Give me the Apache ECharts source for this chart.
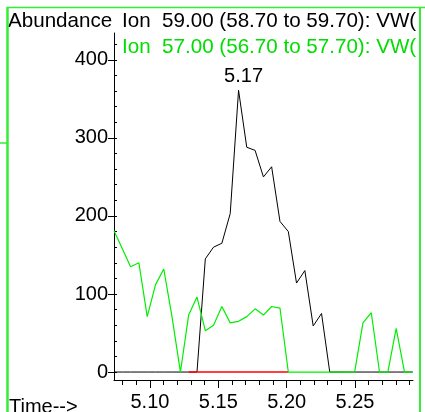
<!DOCTYPE html>
<html>
<head>
<meta charset="utf-8">
<script src="https://cdn.jsdelivr.net/npm/echarts@6/dist/echarts.min.js"></script>
<style>
html,body{margin:0;padding:0;background:#fff;}
#chart{width:425px;height:412px;}
</style>
</head>
<body>
<div id="chart"></div>
<script>
// Scan times (min)
const times = [5.0737,5.0798,5.0858,5.0919,5.0980,5.1041,5.1101,5.1162,5.1223,5.1283,
  5.1344,5.1405,5.1465,5.1526,5.1587,5.1648,5.1708,5.1769,5.1830,5.1890,
  5.1951,5.2012,5.2072,5.2133,5.2194,5.2255,5.2315,5.2376,5.2437,5.2497,
  5.2558,5.2619,5.2679,5.2740,5.2801,5.2862,5.2922];
// Ion 59 abundance (black)
const ion59 = [0,0,0,0,0,0,0,0,0,0,
  0,145,160,165,203,361,288,284,250,263,
  193,180,114,130,59,75,0,0,0,0,
  0,0,0,0,0,0,0];
// Ion 57 abundance (green)
const ion57 = [181,158,135,140,71,112,132,70,0,73,
  96,53,60,84,63,65,71,81,73,84,
  82,0,0,0,0,0,0,0,0,0,
  63,76,0,0,56,0,0];
// Integration baseline (red)
const baseTimes = [5.1283, 5.2012];
const baseValues = [0, 0];
const peakIndex = 15;
const peakLabel = '5.17';
// Axis ticks
const xLabels = [5.10, 5.15, 5.20, 5.25];
const xMinor = [5.08,5.09,5.10,5.11,5.12,5.13,5.14,5.15,5.16,5.17,5.18,5.19,5.20,5.21,5.22,5.23,5.24,5.25,5.26,5.27,5.28,5.29];
const yLabels = [0, 100, 200, 300, 400];
const yMinor = [0,20,40,60,80,100,120,140,160,180,200,220,240,260,280,300,320,340,360,380,400,420];
const titleAbund = 'Abundance';
const title59 = 'Ion  59.00 (58.70 to 59.70): VW(';
const title57 = 'Ion  57.00 (56.70 to 57.70): VW(';
const xTitle = 'Time-->';

const FONT = "'Liberation Sans', Arial, sans-serif";
const FS = 20;
const TFS = 20.6;
const GREEN = '#00ee00';
const XMIN = 5.0737, XMAX = 5.2924, YMIN = -10.2, YMAX = 434.4;

const chart = echarts.init(document.getElementById('chart'));
const d59 = times.map((t, i) => [t, ion59[i]]);
const d57 = times.map((t, i) => [t, ion57[i]]);
const dBase = baseTimes.map((t, i) => [t, baseValues[i]]);

const option = {
  animation: false,
  backgroundColor: '#fff',
  grid: { left: 114, right: 12, top: 33, bottom: 30, containLabel: false },
  xAxis: [
    {
      type: 'value', min: XMIN, max: XMAX, position: 'bottom',
      axisLine: { show: true, onZero: false, lineStyle: { color: '#000', width: 1 } },
      axisTick: { show: true, length: 8, customValues: xLabels, lineStyle: { color: '#000' } },
      axisLabel: { customValues: xLabels, formatter: v => v.toFixed(2), fontSize: FS, fontFamily: FONT, color: '#000', margin: 12 },
      splitLine: { show: false }
    },
    {
      type: 'value', min: XMIN, max: XMAX, position: 'bottom',
      axisLine: { show: false, onZero: false },
      axisTick: { show: true, length: 5, customValues: xMinor, lineStyle: { color: '#000' } },
      axisLabel: { show: false },
      splitLine: { show: false }
    }
  ],
  yAxis: [
    {
      type: 'value', min: YMIN, max: YMAX, position: 'left',
      axisLine: { show: true, onZero: false, lineStyle: { color: '#000', width: 1 } },
      axisTick: { show: true, length: 6, customValues: yLabels, lineStyle: { color: '#000' } },
      axisLabel: { customValues: yLabels, fontSize: FS, fontFamily: FONT, color: '#000', margin: 6 },
      splitLine: { show: false }
    },
    {
      type: 'value', min: YMIN, max: YMAX, position: 'left',
      axisLine: { show: false, onZero: false },
      axisTick: { show: true, inside: true, length: 3, customValues: yMinor, lineStyle: { color: '#000' } },
      axisLabel: { show: false },
      splitLine: { show: false }
    }
  ],
  series: [
    { type: 'line', xAxisIndex: 0, yAxisIndex: 0, data: d59, symbol: 'none', z: 2,
      lineStyle: { color: '#000', width: 1 },
      markPoint: {
        symbol: 'circle', symbolSize: 1, itemStyle: { color: 'rgba(0,0,0,0)' },
        label: { show: true, position: 'top', distance: 3, offset: [5, 0], formatter: peakLabel,
          fontSize: FS, fontFamily: FONT, color: '#000' },
        data: [{ coord: [times[peakIndex], ion59[peakIndex]], value: peakLabel }]
      }
    },
    { type: 'line', xAxisIndex: 0, yAxisIndex: 0, data: dBase, symbol: 'none', z: 3,
      lineStyle: { color: '#ff0000', width: 1.5 } },
    { type: 'line', xAxisIndex: 0, yAxisIndex: 0, data: d57, symbol: 'none', z: 4,
      lineStyle: { color: GREEN, width: 1.2 } }
  ],
  graphic: [
    { type: 'text', left: 8, top: 11, z: 10, style: { text: titleAbund, font: TFS + 'px ' + FONT, fill: '#000' } },
    { type: 'text', left: 122, top: 11, z: 10, style: { text: title59, font: TFS + 'px ' + FONT, fill: '#000' } },
    { type: 'text', left: 122, top: 37, z: 10, style: { text: title57, font: TFS + 'px ' + FONT, fill: '#00dd00' } },
    { type: 'text', left: 9, top: 397, z: 10, style: { text: xTitle, font: FS + 'px ' + FONT, fill: '#000' } },
    { type: 'rect', shape: { x: 419, y: 0, width: 6, height: 412 }, z: 20, style: { fill: '#fff' } },
    { type: 'line', shape: { x1: 7.5, y1: 7, x2: 7.5, y2: 412 }, z: 30, style: { stroke: '#33ee33', lineWidth: 2.5 } },
    { type: 'line', shape: { x1: 7, y1: 7.5, x2: 425, y2: 7.5 }, z: 30, style: { stroke: '#33ee33', lineWidth: 1.5 } },
    { type: 'line', shape: { x1: 420, y1: 7, x2: 420, y2: 412 }, z: 30, style: { stroke: '#33ee33', lineWidth: 2 } },
    { type: 'line', shape: { x1: 0, y1: 143, x2: 7, y2: 143 }, z: 30, style: { stroke: '#33ee33', lineWidth: 1.5 } }
  ]
};
chart.setOption(option);
</script>
</body>
</html>
